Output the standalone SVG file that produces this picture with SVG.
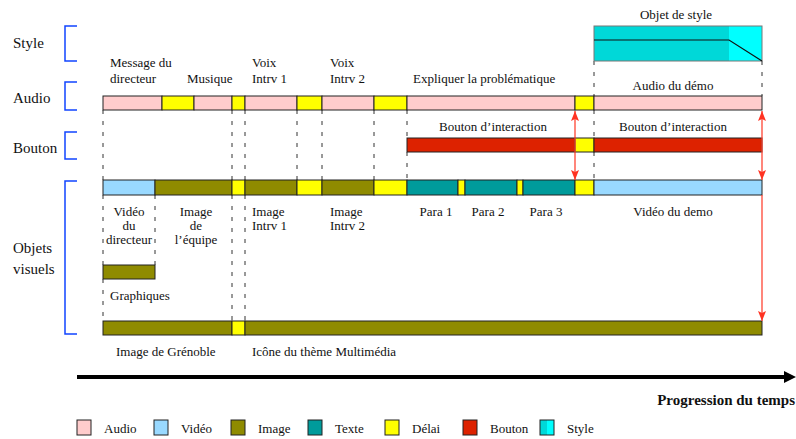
<svg xmlns="http://www.w3.org/2000/svg" width="796" height="439" viewBox="0 0 796 439">
<defs>
<style>
text{font-family:"Liberation Serif","Times New Roman",serif;font-size:13px;fill:#111}
.lab{font-size:15px}
.mid{text-anchor:middle}
.bar{stroke:#222;stroke-width:1}
.au{fill:#ffcccc}.vi{fill:#99d9ff}.im{fill:#8f8b00}.tx{fill:#009b9b}.de{fill:#ffff00}.bo{fill:#dd2200}.st{fill:#00d8d8}.st2{fill:#00ffff}
.br{fill:none;stroke:#1144ff;stroke-width:1.5}
.dash{stroke:#333;stroke-width:1;stroke-dasharray:4 7;fill:none}
.red{stroke:#ff4433;stroke-width:1.3;fill:none}
</style>
<marker id="ah" viewBox="0 0 10 8" refX="10" refY="4" markerWidth="10" markerHeight="8" orient="auto-start-reverse" markerUnits="userSpaceOnUse">
<path d="M0,0 L10,4 L0,8 L2,4 z" fill="#ff3322"/>
</marker>
</defs>
<rect width="796" height="439" fill="#fff"/>

<g id="brackets">
<text class="lab" x="13" y="48">Style</text>
<path class="br" d="M77,26 H65 V61 H77"/>
<text class="lab" x="13" y="103">Audio</text>
<path class="br" d="M77,82 H65 V110 H77"/>
<text class="lab" x="13" y="153">Bouton</text>
<path class="br" d="M77,132 H65 V159 H77"/>
<text class="lab" x="13" y="253">Objets</text>
<text class="lab" x="13" y="274">visuels</text>
<path class="br" d="M77,181 H65 V334 H77"/>
</g>

<g id="connectors">
<path class="dash" d="M594,61 V96 M762,61 V96"/>
<path class="dash" d="M103,110 V180 M232,110 V180 M245,110 V180 M297,110 V180 M322,110 V180 M374,110 V180 M407,110 V138 M407,152 V180 M594,110 V138 M594,152 V180"/>
<path class="dash" d="M103,195 V265 M103,279 V321 M155,195 V265 M232,195 V321 M245,195 V321"/>
</g>

<g id="style-track">
<rect class="st" x="594" y="26" width="135" height="35"/>
<rect class="st2" x="729" y="26" width="33" height="35"/>
<rect x="594" y="26" width="168" height="35" fill="none" stroke="#777" stroke-width="1"/>
<path d="M594,40 H729 L762,61" fill="none" stroke="#111" stroke-width="1.2"/>
<text class="mid" x="676" y="19">Objet de style</text>
</g>

<g id="audio-track">
<rect class="bar au" x="103" y="96" width="59" height="14"/>
<rect class="bar de" x="162" y="96" width="32" height="14"/>
<rect class="bar au" x="194" y="96" width="38" height="14"/>
<rect class="bar de" x="232" y="96" width="13" height="14"/>
<rect class="bar au" x="245" y="96" width="52" height="14"/>
<rect class="bar de" x="297" y="96" width="25" height="14"/>
<rect class="bar au" x="322" y="96" width="52" height="14"/>
<rect class="bar de" x="374" y="96" width="33" height="14"/>
<rect class="bar au" x="407" y="96" width="168" height="14"/>
<rect class="bar de" x="575" y="96" width="19" height="14"/>
<rect class="bar au" x="594" y="96" width="168" height="14"/>
<text x="110" y="67">Message  du</text>
<text x="110" y="83">directeur</text>
<text x="187" y="83">Musique</text>
<text x="252" y="67">Voix</text>
<text x="252" y="83">Intrv 1</text>
<text x="330" y="67">Voix</text>
<text x="330" y="83">Intrv 2</text>
<text x="413" y="83">Expliquer la problématique</text>
<text class="mid" x="673" y="90">Audio du démo</text>
</g>

<g id="bouton-track">
<rect class="bar bo" x="407" y="138" width="168" height="14"/>
<rect class="bar de" x="575" y="138" width="19" height="14"/>
<rect class="bar bo" x="594" y="138" width="168" height="14"/>
<text class="mid" x="493" y="131">Bouton d’interaction</text>
<text class="mid" x="673" y="131">Bouton d’interaction</text>
</g>

<g id="visual-track">
<rect class="bar vi" x="103" y="180" width="52" height="15"/>
<rect class="bar im" x="155" y="180" width="77" height="15"/>
<rect class="bar de" x="232" y="180" width="13" height="15"/>
<rect class="bar im" x="245" y="180" width="52" height="15"/>
<rect class="bar de" x="297" y="180" width="25" height="15"/>
<rect class="bar im" x="322" y="180" width="52" height="15"/>
<rect class="bar de" x="374" y="180" width="33" height="15"/>
<rect class="bar tx" x="407" y="180" width="51" height="15"/>
<rect class="bar de" x="458" y="180" width="7" height="15"/>
<rect class="bar tx" x="465" y="180" width="52" height="15"/>
<rect class="bar de" x="517" y="180" width="6" height="15"/>
<rect class="bar tx" x="523" y="180" width="52" height="15"/>
<rect class="bar de" x="575" y="180" width="19" height="15"/>
<rect class="bar vi" x="594" y="180" width="168" height="15"/>
<text class="mid" x="129" y="216">Vidéo</text>
<text class="mid" x="129" y="230">du</text>
<text class="mid" x="129" y="244">directeur</text>
<text class="mid" x="196" y="216">Image</text>
<text class="mid" x="196" y="230">de</text>
<text class="mid" x="196" y="244">l’équipe</text>
<text x="252" y="216">Image</text>
<text x="252" y="230">Intrv 1</text>
<text x="330" y="216">Image</text>
<text x="330" y="230">Intrv 2</text>
<text class="mid" x="436" y="216">Para 1</text>
<text class="mid" x="488" y="216">Para 2</text>
<text class="mid" x="546" y="216">Para 3</text>
<text class="mid" x="673" y="216">Vidéo du demo</text>
</g>

<g id="graphiques">
<rect class="bar im" x="103" y="265" width="52" height="14"/>
<text x="110" y="300">Graphiques</text>
</g>

<g id="background-track">
<rect class="bar im" x="103" y="321" width="129" height="14"/>
<rect class="bar de" x="232" y="321" width="13" height="14"/>
<rect class="bar im" x="245" y="321" width="517" height="14"/>
<text x="116" y="356">Image de Grénoble</text>
<text x="252" y="356">Icône du thème Multimédia</text>
</g>

<g id="sync-arrows">
<line class="red" x1="575" y1="111" x2="575" y2="180" marker-start="url(#ah)" marker-end="url(#ah)"/>
<line class="red" x1="762" y1="111" x2="762" y2="180" marker-start="url(#ah)" marker-end="url(#ah)"/>
<line class="red" x1="762" y1="195" x2="762" y2="321" marker-end="url(#ah)"/>
</g>

<g id="timeline">
<line x1="77" y1="377" x2="786" y2="377" stroke="#000" stroke-width="4"/>
<path d="M784,371 L796,377 L784,383 z" fill="#000"/>
<text x="795" y="405" style="font-size:15px;font-weight:bold;text-anchor:end">Progression du temps</text>
</g>

<g id="legend">
<rect class="bar au" x="77" y="420" width="14" height="15"/>
<text x="104" y="433">Audio</text>
<rect class="bar vi" x="154" y="420" width="14" height="15"/>
<text x="181" y="433">Vidéo</text>
<rect class="bar im" x="231" y="420" width="14" height="15"/>
<text x="258" y="433">Image</text>
<rect class="bar tx" x="308" y="420" width="14" height="15"/>
<text x="335" y="433">Texte</text>
<rect class="bar de" x="385" y="420" width="14" height="15"/>
<text x="412" y="433">Délai</text>
<rect class="bar bo" x="463" y="420" width="14" height="15"/>
<text x="490" y="433">Bouton</text>
<rect class="st" x="540" y="420" width="7" height="15"/>
<rect class="st2" x="547" y="420" width="7" height="15"/>
<rect x="540" y="420" width="14" height="15" fill="none" stroke="#222"/>
<text x="567" y="433">Style</text>
</g>
</svg>
